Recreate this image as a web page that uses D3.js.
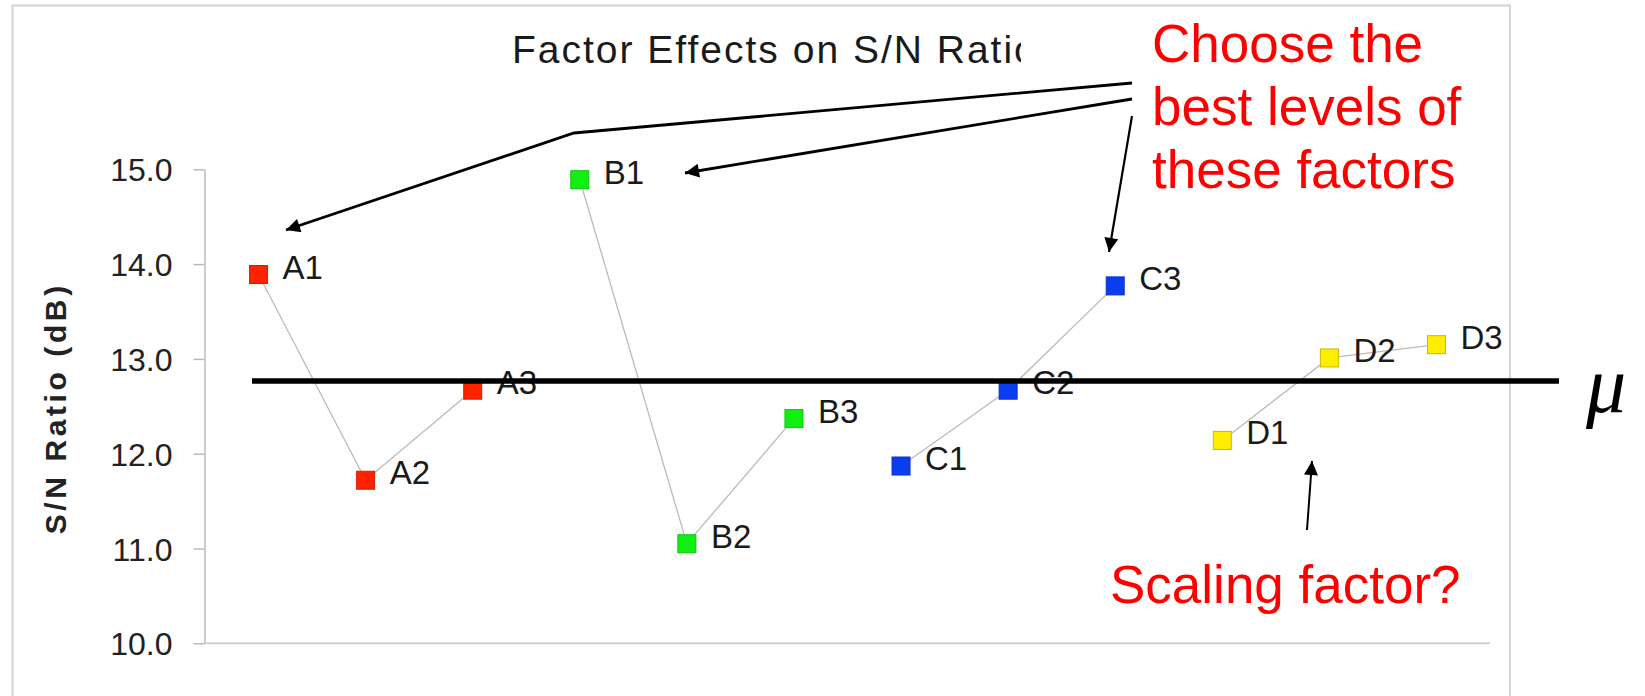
<!DOCTYPE html>
<html>
<head>
<meta charset="utf-8">
<script src="https://cdn.jsdelivr.net/npm/d3@7/dist/d3.min.js"></script>
<style>
  html, body { margin: 0; padding: 0; background: #fff; }
  svg { display: block; }
</style>
</head>
<body>
<svg id="chart" width="1645" height="696"></svg>
<script>
// ---- data ----
const levels  = ["A1","A2","A3","B1","B2","B3","C1","C2","C3","D1","D2","D3"];
const factors = ["A","B","C","D"];
const snValues = [13.89, 11.72, 12.67, 14.89, 11.05, 12.37, 11.87, 12.67, 13.77, 12.14, 13.01, 13.15];
const yTicks = [10, 11, 12, 13, 14, 15];
const factorColors = ["#ff2200", "#11ee11", "#0a3cf0", "#ffee00"];
const factorStrokes = ["#d81c00", "#0fc40f", "#0830c8", "#c9b800"];
const chartTitle = "Factor Effects on S/N Ratio";
const yTitle = "S/N Ratio (dB)";
const noteBest = ["Choose the", "best levels of", "these factors"];
const noteScale = "Scaling factor?";
const muLabel = "\u03BC";

const data = levels.map((l, i) => ({ level: l, factor: l[0], value: snValues[i] }));
const mu = d3.mean(snValues);

const svg = d3.select("#chart");
const FONT = "'Liberation Sans', Arial, Helvetica, sans-serif";

// frame
svg.append("rect").attr("x", 12.5).attr("y", 5.5).attr("width", 1497.5).attr("height", 720)
  .attr("fill", "#fff").attr("stroke", "#d4d4d4").attr("stroke-width", 2);

// scales
const x = d3.scalePoint().domain(levels).range([205, 1490]).padding(0.5);
const y = d3.scaleLinear().domain([10, 15]).range([643.3, 169.3]);
const color = d3.scaleOrdinal().domain(factors).range(factorColors);
const strokeC = d3.scaleOrdinal().domain(factors).range(factorStrokes);

// title (clipped as in the reference)
svg.append("clipPath").attr("id", "tclip").append("rect")
  .attr("x", 0).attr("y", 0).attr("width", 1021).attr("height", 120);
svg.append("text").attr("clip-path", "url(#tclip)")
  .attr("x", 512).attr("y", 62.5)
  .attr("font-family", FONT).attr("font-size", 39).attr("letter-spacing", 2.0)
  .attr("fill", "#1a1a1a").text(chartTitle);

// y axis
const yAxis = d3.axisLeft(y).tickValues(yTicks).tickFormat(d3.format(".1f"))
  .tickSize(11).tickSizeOuter(0).tickPadding(21);
const gy = svg.append("g").attr("transform", "translate(204.5,0)").call(yAxis);
gy.select(".domain").attr("stroke", "#bbb").attr("stroke-width", 1.5);
gy.selectAll(".tick line").attr("stroke", "#bbb").attr("stroke-width", 1.5);
gy.selectAll(".tick text").attr("font-family", FONT).attr("font-size", 32)
  .attr("fill", "#222").attr("dy", "0.36em");

// x baseline
svg.append("line").attr("x1", x.range()[0]).attr("x2", x.range()[1])
  .attr("y1", y(10)).attr("y2", y(10)).attr("stroke", "#d0d0d0").attr("stroke-width", 2);

// y title
svg.append("text")
  .attr("transform", `translate(66,${(y(10) + y(15)) / 2 + 2}) rotate(-90)`)
  .attr("text-anchor", "middle")
  .attr("font-family", FONT).attr("font-size", 30).attr("font-weight", "bold")
  .attr("letter-spacing", 3.6).attr("fill", "#222").text(yTitle);

// connecting lines per factor
const line = d3.line().x(d => x(d.level)).y(d => y(d.value));
factors.forEach(f => {
  svg.append("path").datum(data.filter(d => d.factor === f))
    .attr("d", line).attr("fill", "none").attr("stroke", "#bbb").attr("stroke-width", 1.3);
});

// markers
const S = 18;
svg.selectAll("rect.pt").data(data).enter().append("rect").attr("class", "pt")
  .attr("x", d => x(d.level) - S / 2).attr("y", d => y(d.value) - S / 2)
  .attr("width", S).attr("height", S)
  .attr("fill", d => color(d.factor)).attr("stroke", d => strokeC(d.factor)).attr("stroke-width", 1);

// point labels
svg.selectAll("text.pl").data(data).enter().append("text").attr("class", "pl")
  .attr("x", d => x(d.level) + 24).attr("y", d => y(d.value) + 4)
  .attr("font-family", FONT).attr("font-size", 33).attr("fill", "#1a1a1a")
  .text(d => d.level);

// mean line mu
svg.append("line").attr("x1", 252).attr("x2", 1559)
  .attr("y1", y(mu)).attr("y2", y(mu)).attr("stroke", "#000").attr("stroke-width", 5.5);
svg.append("text").attr("x", 1586).attr("y", y(mu) + 31)
  .attr("font-family", "'Liberation Serif', 'Times New Roman', serif")
  .attr("font-style", "italic").attr("font-size", 80).attr("fill", "#000").text(muLabel);

// red notes
svg.append("text").attr("font-family", FONT).attr("font-size", 53).attr("fill", "#ff0000")
  .selectAll("tspan").data(noteBest).enter().append("tspan")
  .attr("x", 1152).attr("y", (d, i) => 61.5 + i * 63.4).text(d => d);
svg.append("text").attr("x", 1110).attr("y", 603)
  .attr("font-family", FONT).attr("font-size", 53).attr("fill", "#ff0000").text(noteScale);

// arrows
const defs = svg.append("defs");
defs.append("marker").attr("id", "ah").attr("viewBox", "0 0 10 10")
  .attr("refX", 10).attr("refY", 5)
  .attr("markerUnits", "userSpaceOnUse").attr("orient", "auto")
  .attr("markerWidth", 22).attr("markerHeight", 14)
  .append("path").attr("d", "M0,0 L10,5 L0,10 Z").attr("fill", "#000");

const arrows = [
  { pts: [[1132, 83], [574, 133], [286, 230]], w: 2.8 },
  { pts: [[1132, 99], [685, 173]], w: 2.8 },
  { pts: [[1132, 116], [1109, 252]], w: 2.2 },
  { pts: [[1307, 530], [1312, 461]], w: 2 }
];
arrows.forEach(a => {
  svg.append("path").attr("d", d3.line()(a.pts))
    .attr("fill", "none").attr("stroke", "#000").attr("stroke-width", a.w)
    .attr("marker-end", "url(#ah)");
});
</script>
</body>
</html>
